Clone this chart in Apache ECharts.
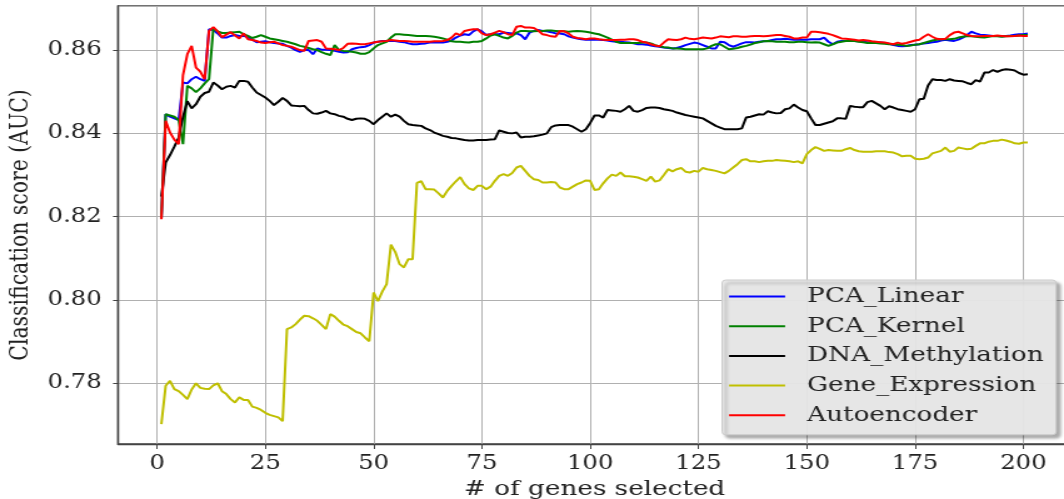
<!DOCTYPE html>
<html>
<head>
<meta charset="utf-8">
<script src="https://cdn.jsdelivr.net/npm/echarts@6/dist/echarts.min.js"></script>
<style>
  html, body { margin: 0; padding: 0; background: #fff; overflow: hidden; }
  /* the reference figure is stretched sideways, so draw narrow and scale it */
  #container { width: 851px; height: 499px; transform: scaleX(1.2503); transform-origin: 0 0; }
</style>
</head>
<body>
<div id="container"></div>
<script>
// number of genes selected, 1..201
var genes = Array.from({ length: 201 }, function (_, i) { return i + 1 })

var pcaLinear = [
    .8196, .8446, .8440, .8436, .8432, .8522, .8520, .8530, .8536, .8530,
    .8526, .8650, .8648, .8640, .8630, .8630, .8634, .8636, .8634, .8634,
    .8632, .8625, .8619, .8620, .8621, .8619, .8617, .8616, .8615, .8610,
    .8606, .8600, .8596, .8600, .8600, .8590, .8604, .8601, .8601, .8600,
    .8598, .8596, .8594, .8595, .8602, .8605, .8607, .8608, .8612, .8618,
    .8620, .8622, .8622, .8622, .8622, .8620, .8619, .8616, .8614, .8614,
    .8615, .8616, .8618, .8618, .8618, .8618, .8620, .8623, .8630, .8635,
    .8638, .8636, .8645, .8650, .8645, .8636, .8638, .8638, .8638, .8642,
    .8641, .8640, .8640, .8636, .8626, .8642, .8646, .8648, .8646, .8645,
    .8643, .8640, .8640, .8638, .8633, .8630, .8628, .8626, .8625, .8625,
    .8625, .8625, .8624, .8623, .8621, .8620, .8620, .8619, .8618, .8616,
    .8614, .8614, .8613, .8611, .8609, .8608, .8606, .8605, .8604, .8605,
    .8608, .8612, .8615, .8618, .8616, .8612, .8608, .8604, .8604, .8620,
    .8619, .8612, .8608, .8612, .8616, .8619, .8619, .8618, .8620, .8621,
    .8622, .8624, .8626, .8626, .8627, .8626, .8625, .8625, .8625, .8625,
    .8626, .8626, .8626, .8630, .8620, .8614, .8620, .8622, .8622, .8622,
    .8622, .8621, .8620, .8619, .8618, .8618, .8618, .8617, .8615, .8612,
    .8610, .8609, .8610, .8612, .8613, .8614, .8616, .8617, .8619, .8620,
    .8623, .8625, .8623, .8622, .8625, .8630, .8636, .8644, .8640, .8637,
    .8636, .8635, .8634, .8634, .8633, .8634, .8635, .8637, .8638, .8638,
    .8640
]

var pcaKernel = [
    .8197, .8446, .8443, .8440, .8432, .8374, .8514, .8508, .8499, .8508,
    .8520, .8530, .8652, .8645, .8641, .8641, .8642, .8643, .8644, .8638,
    .8634, .8629, .8632, .8636, .8632, .8628, .8626, .8624, .8622, .8620,
    .8617, .8614, .8610, .8608, .8605, .8602, .8600, .8595, .8591, .8588,
    .8612, .8600, .8598, .8597, .8596, .8594, .8591, .8591, .8595, .8604,
    .8612, .8616, .8620, .8630, .8638, .8638, .8637, .8636, .8635, .8634,
    .8634, .8634, .8633, .8632, .8630, .8628, .8625, .8621, .8620, .8620,
    .8619, .8618, .8620, .8620, .8622, .8628, .8635, .8638, .8634, .8630,
    .8628, .8634, .8642, .8646, .8646, .8645, .8645, .8646, .8646, .8647,
    .8647, .8646, .8645, .8645, .8644, .8645, .8646, .8645, .8644, .8642,
    .8640, .8638, .8634, .8630, .8625, .8620, .8617, .8617, .8617, .8617,
    .8617, .8618, .8618, .8616, .8612, .8609, .8607, .8606, .8604, .8604,
    .8603, .8602, .8602, .8602, .8602, .8602, .8604, .8610, .8614, .8614,
    .8608, .8602, .8603, .8605, .8608, .8610, .8613, .8617, .8619, .8621,
    .8622, .8621, .8620, .8620, .8620, .8619, .8619, .8620, .8620, .8619,
    .8618, .8619, .8618, .8614, .8610, .8614, .8618, .8620, .8622, .8622,
    .8622, .8620, .8619, .8617, .8617, .8617, .8616, .8615, .8614, .8614,
    .8613, .8612, .8610, .8611, .8613, .8614, .8617, .8620, .8623, .8625,
    .8626, .8626, .8626, .8627, .8630, .8632, .8634, .8633, .8632, .8631,
    .8630, .8632, .8634, .8633, .8632, .8633, .8634, .8634, .8635, .8636,
    .8636
]

var dnaMethylation = [
    .8248, .8330, .8348, .8368, .8390, .8440, .8477, .8460, .8470, .8488,
    .8497, .8500, .8522, .8515, .8506, .8512, .8514, .8510, .8526, .8526,
    .8524, .8510, .8498, .8492, .8486, .8478, .8468, .8476, .8485, .8478,
    .8467, .8466, .8465, .8466, .8456, .8448, .8447, .8450, .8454, .8448,
    .8446, .8442, .8440, .8435, .8432, .8435, .8436, .8435, .8430, .8422,
    .8432, .8440, .8448, .8440, .8445, .8440, .8430, .8422, .8420, .8419,
    .8418, .8412, .8408, .8402, .8398, .8394, .8392, .8389, .8388, .8386,
    .8384, .8383, .8383, .8384, .8384, .8384, .8385, .8386, .8407, .8404,
    .8401, .8400, .8402, .8390, .8392, .8392, .8393, .8395, .8397, .8400,
    .8415, .8419, .8420, .8420, .8420, .8416, .8410, .8404, .8410, .8425,
    .8443, .8443, .8438, .8456, .8455, .8454, .8452, .8458, .8466, .8454,
    .8452, .8456, .8461, .8462, .8462, .8461, .8458, .8456, .8454, .8450,
    .8447, .8444, .8442, .8440, .8438, .8436, .8430, .8424, .8418, .8414,
    .8410, .8410, .8410, .8410, .8412, .8438, .8440, .8443, .8446, .8445,
    .8453, .8450, .8448, .8449, .8458, .8460, .8469, .8462, .8456, .8453,
    .8436, .8420, .8420, .8423, .8426, .8429, .8436, .8436, .8435, .8466,
    .8464, .8463, .8463, .8475, .8478, .8472, .8466, .8458, .8465, .8462,
    .8458, .8456, .8454, .8452, .8458, .8482, .8483, .8515, .8530, .8528,
    .8528, .8526, .8530, .8527, .8526, .8525, .8521, .8518, .8528, .8524,
    .8546, .8546, .8552, .8548, .8552, .8554, .8553, .8551, .8545, .8541,
    .8542
]

var geneExpression = [
    .7702, .7794, .7806, .7786, .7781, .7772, .7762, .7785, .7800, .7789,
    .7787, .7786, .7795, .7800, .7781, .7774, .7762, .7754, .7766, .7760,
    .7760, .7744, .7741, .7736, .7729, .7724, .7721, .7718, .7709, .7930,
    .7934, .7942, .7953, .7962, .7961, .7956, .7950, .7940, .7930, .7966,
    .7960, .7950, .7941, .7937, .7930, .7923, .7920, .7910, .7901, .8018,
    .7997, .8020, .8038, .8133, .8115, .8086, .8078, .8098, .8098, .8281,
    .8285, .8266, .8266, .8265, .8256, .8246, .8262, .8274, .8285, .8295,
    .8278, .8268, .8264, .8274, .8274, .8266, .8272, .8286, .8298, .8302,
    .8298, .8305, .8318, .8322, .8310, .8298, .8290, .8288, .8282, .8282,
    .8283, .8282, .8270, .8266, .8266, .8272, .8278, .8282, .8287, .8286,
    .8264, .8266, .8280, .8292, .8301, .8298, .8306, .8297, .8297, .8296,
    .8294, .8290, .8286, .8296, .8284, .8287, .8300, .8314, .8309, .8314,
    .8317, .8308, .8306, .8310, .8308, .8317, .8314, .8312, .8310, .8307,
    .8304, .8310, .8318, .8326, .8336, .8338, .8333, .8333, .8331, .8333,
    .8334, .8334, .8336, .8335, .8334, .8333, .8331, .8333, .8328, .8350,
    .8360, .8367, .8363, .8358, .8360, .8359, .8358, .8358, .8362, .8365,
    .8360, .8357, .8356, .8356, .8356, .8357, .8357, .8357, .8355, .8354,
    .8350, .8345, .8346, .8346, .8339, .8338, .8339, .8342, .8352, .8355,
    .8358, .8366, .8356, .8358, .8366, .8364, .8362, .8363, .8370, .8376,
    .8376, .8380, .8382, .8382, .8385, .8383, .8380, .8376, .8375, .8378,
    .8378
]

var autoencoder = [
    .8194, .8430, .8402, .8385, .8374, .8540, .8590, .8610, .8558, .8548,
    .8530, .8646, .8655, .8645, .8631, .8637, .8643, .8635, .8628, .8640,
    .8626, .8624, .8622, .8618, .8617, .8619, .8620, .8616, .8612, .8610,
    .8608, .8604, .8600, .8598, .8622, .8623, .8624, .8620, .8604, .8603,
    .8602, .8600, .8605, .8615, .8616, .8615, .8614, .8614, .8616, .8618,
    .8620, .8621, .8622, .8624, .8623, .8622, .8622, .8621, .8620, .8620,
    .8620, .8620, .8620, .8621, .8621, .8622, .8624, .8630, .8640, .8636,
    .8646, .8648, .8650, .8650, .8640, .8636, .8638, .8642, .8646, .8643,
    .8638, .8636, .8656, .8658, .8654, .8654, .8653, .8647, .8638, .8636,
    .8633, .8632, .8646, .8645, .8640, .8632, .8629, .8628, .8626, .8628,
    .8628, .8626, .8625, .8624, .8624, .8624, .8625, .8625, .8626, .8626,
    .8624, .8620, .8618, .8614, .8611, .8609, .8618, .8626, .8625, .8624,
    .8626, .8630, .8627, .8626, .8628, .8630, .8629, .8628, .8630, .8633,
    .8632, .8631, .8633, .8633, .8632, .8632, .8633, .8634, .8634, .8633,
    .8634, .8635, .8636, .8636, .8634, .8632, .8628, .8628, .8630, .8630,
    .8644, .8644, .8643, .8641, .8639, .8636, .8632, .8628, .8627, .8626,
    .8625, .8623, .8624, .8623, .8621, .8620, .8619, .8618, .8616, .8614,
    .8618, .8615, .8617, .8620, .8623, .8625, .8632, .8638, .8632, .8627,
    .8626, .8627, .8636, .8642, .8644, .8640, .8636, .8634, .8633, .8633,
    .8634, .8634, .8634, .8635, .8634, .8633, .8633, .8634, .8635, .8634,
    .8634
]

var seriesNames = ['PCA_Linear', 'PCA_Kernel', 'DNA_Methylation', 'Gene_Expression', 'Autoencoder']
var seriesValues = [pcaLinear, pcaKernel, dnaMethylation, geneExpression, autoencoder]
var seriesColors = ['#0000ff', '#008000', '#000000', '#bfbf00', '#ff0000']

var series = seriesNames.map(function (name, k) {
    return {
        name: name,
        type: 'line',
        symbol: 'none',
        color: seriesColors[k],
        lineStyle: { width: 2, color: seriesColors[k] },
        data: genes.map(function (g, i) { return [g, seriesValues[k][i]] })
    }
})

var font = 'DejaVu Serif'
var textColor = '#222'

var myChart = echarts.init(document.getElementById('container'))
myChart.setOption({
    animation: false,
    backgroundColor: '#ffffff',
    grid: {
        left: 94.4, top: 6, width: 762.2, height: 438,
        containLabel: false, outerBoundsMode: 'none',
        show: true, borderColor: '#444', borderWidth: 1.4
    },
    legend: {
        orient: 'vertical',
        left: 577.5, top: 280,
        data: seriesNames,
        icon: 'rect',
        itemWidth: 44.8, itemHeight: 2, itemGap: 8.7,
        padding: [6, 10, 9, 5.6],
        backgroundColor: 'rgba(233,233,233,0.95)',
        borderColor: '#cccccc', borderWidth: 1, borderRadius: 3,
        shadowColor: 'rgba(0,0,0,0.35)', shadowBlur: 3, shadowOffsetX: 3, shadowOffsetY: 3,
        textStyle: {
            fontFamily: font, fontSize: 21, color: textColor,
            lineHeight: 20, padding: [0, 0, 0, 12.6]
        }
    },
    xAxis: {
        type: 'value',
        min: -9, max: 211,
        minInterval: 25, maxInterval: 25,
        name: '# of genes selected',
        nameLocation: 'middle',
        nameGap: 32,
        nameTextStyle: { fontFamily: font, fontSize: 21, color: textColor },
        axisLine: { show: true, onZero: false, lineStyle: { color: '#444', width: 1.4 } },
        axisTick: { show: true, length: 5, lineStyle: { color: '#444' } },
        axisLabel: {
            showMinLabel: false, showMaxLabel: false, margin: 10,
            fontFamily: font, fontSize: 19.5, color: textColor
        },
        splitLine: { show: true, lineStyle: { color: '#b0b0b0', width: 1 } }
    },
    yAxis: {
        type: 'value',
        min: 0.76542, max: 0.87058,
        minInterval: 0.02, maxInterval: 0.02,
        name: 'Classification score (AUC)',
        nameLocation: 'middle',
        nameGap: 66,
        nameTextStyle: { fontFamily: font, fontSize: 20.4, color: textColor },
        axisLine: { show: true, onZero: false, lineStyle: { color: '#444', width: 1.4 } },
        axisTick: { show: true, length: 4, lineStyle: { color: '#444' } },
        axisLabel: {
            showMinLabel: false, showMaxLabel: false, margin: 13,
            fontFamily: font, fontSize: 19.5, color: textColor,
            formatter: function (v) { return v.toFixed(2) }
        },
        splitLine: { show: true, lineStyle: { color: '#b0b0b0', width: 1 } }
    },
    series: series
})
</script>
</body>
</html>
